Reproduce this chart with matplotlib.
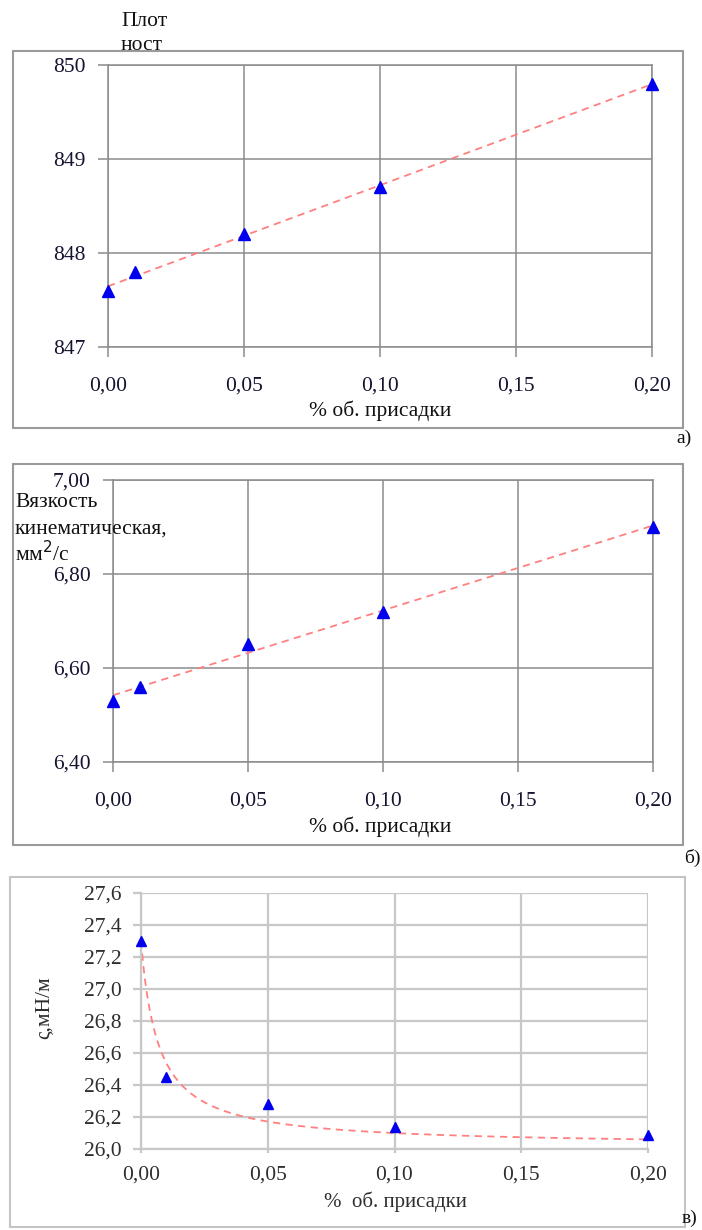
import numpy as np
import matplotlib
matplotlib.use("Agg")
import matplotlib.pyplot as plt
from matplotlib.patches import Rectangle

# ---------------- data ----------------
additive_pct = [0.00, 0.01, 0.05, 0.10, 0.20]
density = [847.6, 847.8, 848.2, 848.7, 849.8]
viscosity = [6.53, 6.56, 6.65, 6.72, 6.90]
surface_tension = [27.30, 26.45, 26.28, 26.14, 26.09]
# hyperbolic trend y = a + b / (x + c), coefficients
surface_trend_coef = [26.018, 0.00872, 0.0068]

xticks = [0.00, 0.05, 0.10, 0.15, 0.20]
xtick_labels = ["0,00", "0,05", "0,10", "0,15", "0,20"]
density_ticks = [847, 848, 849, 850]
density_labels = ["847", "848", "849", "850"]
visc_ticks = [6.40, 6.60, 6.80, 7.00]
visc_labels = ["6,40", "6,60", "6,80", "7,00"]
st_ticks = [26.0, 26.2, 26.4, 26.6, 26.8, 27.0, 27.2, 27.4, 27.6]
st_labels = ["26,0", "26,2", "26,4", "26,6", "26,8", "27,0", "27,2", "27,4", "27,6"]

xlabel = "% об. присадки"
xlabel_c = "%  об. присадки"

# ---------------- style ----------------
plt.rcParams['font.family'] = ['Liberation Serif', 'DejaVu Serif']
W, H = 702, 1230
fig = plt.figure(figsize=(W / 100, H / 100), dpi=100)


def ax_rect(l, t, r, b):
    return [l / W, 1 - b / H, (r - l) / W, (b - t) / H]


def fig_xy(x, y):
    return x / W, 1 - y / H


def frame(l, t, r, b, color="#9a9a9a", lw=1.5):
    fig.patches.append(Rectangle(fig_xy(l, b), (r - l) / W, (b - t) / H,
                                 transform=fig.transFigure, fill=False,
                                 edgecolor=color, linewidth=lw))


x = np.array(additive_pct)
xs = np.linspace(0, 0.2, 400)

tick_col = "#141432"
trend_kw = dict(color="#ff8080", lw=1.3, dashes=(4, 3), zorder=2)
mark_kw = dict(marker="^", color="#0000ee", linestyle="none", zorder=3,
               clip_on=False)

# ---------------- panel a ----------------
frame(13, 51, 683, 428)
axa = fig.add_axes(ax_rect(108, 65, 652, 347))
axa.set_xlim(0, 0.2)
axa.set_ylim(847, 850)
pa = np.polyfit(x, density, 1)
axa.plot(xs, np.polyval(pa, xs), **trend_kw)
axa.plot(x, density, markersize=9, **mark_kw)
axa.set_xticks(xticks, xtick_labels)
axa.set_yticks(density_ticks, density_labels)

# ---------------- panel b ----------------
frame(13, 464, 683, 845)
axb = fig.add_axes(ax_rect(113, 480, 653, 762))
axb.set_xlim(0, 0.2)
axb.set_ylim(6.40, 7.00)
pb = np.polyfit(x, viscosity, 1)
axb.plot(xs, np.polyval(pb, xs), **trend_kw)
axb.plot(x, viscosity, markersize=9, **mark_kw)
axb.set_xticks(xticks, xtick_labels)
axb.set_yticks(visc_ticks, visc_labels)

for ax in (axa, axb):
    ax.grid(True, color="#8c8c8c", lw=1.1)
    for s in ax.spines.values():
        s.set_color("#8c8c8c")
        s.set_linewidth(1.1)
    ax.tick_params(axis="both", colors="#8c8c8c", labelcolor=tick_col,
                   labelsize=15.5, length=7, width=1.1)
    ax.tick_params(axis="x", pad=14)
    ax.tick_params(axis="y", pad=9)
    ax.set_axisbelow(True)

fig.text(*fig_xy(380, 411), xlabel, ha="center", va="center", fontsize=15.5,
         color="#111111")
fig.text(*fig_xy(380, 827), xlabel, ha="center", va="center", fontsize=15.5,
         color="#111111")

# labels panel a
fig.text(*fig_xy(121, 22), "Плот", ha="left", va="center", fontsize=15.5,
         color="#111111")
fig.text(*fig_xy(121, 46), "ност", ha="left", va="center", fontsize=15.5,
         color="#111111")
fig.text(*fig_xy(676, 438), "а)", ha="left", va="center", fontsize=14,
         color="#111111")

# labels panel b
fig.text(*fig_xy(15, 502), "Вязкость", ha="left", va="center", fontsize=15.5,
         color="#111111")
fig.text(*fig_xy(15, 529), "кинематическая,", ha="left", va="center",
         fontsize=15.5, color="#111111")
fig.text(*fig_xy(15, 554), "мм$^{2}$/с", ha="left", va="center", fontsize=15.5,
         color="#111111")
fig.text(*fig_xy(684, 858), "б)", ha="left", va="center", fontsize=14,
         color="#111111")

# ---------------- panel c ----------------
frame(10, 877, 685, 1227, color="#c4c4c4", lw=1.5)
axc = fig.add_axes(ax_rect(141, 893, 648, 1149))
axc.set_xlim(0, 0.2)
axc.set_ylim(26.0, 27.6)

ta, tb, tc = surface_trend_coef
axc.plot(xs, ta + tb / (xs + tc), **trend_kw)
axc.plot(x, surface_tension, markersize=7.5, **mark_kw)
axc.set_xticks(xticks, xtick_labels)
axc.set_yticks(st_ticks, st_labels)
axc.grid(True, color="#c8c8c8", lw=1.6)
for s in axc.spines.values():
    s.set_visible(False)
axc.spines["left"].set_visible(True)
axc.spines["bottom"].set_visible(True)
axc.spines["left"].set_color("#c8c8c8")
axc.spines["bottom"].set_color("#c8c8c8")
axc.spines["left"].set_linewidth(1.6)
axc.spines["bottom"].set_linewidth(1.6)
axc.tick_params(axis="both", colors="#c8c8c8", labelcolor="#2e2e2e",
                labelsize=15.5, length=6, width=1.6)
axc.tick_params(axis="x", pad=9, length=3)
axc.tick_params(axis="y", pad=8)
axc.set_axisbelow(True)

fig.text(*fig_xy(44, 1008), "ς,мН/м", ha="center", va="center", fontsize=15.5,
         rotation=90, color="#2e2e2e")
fig.text(*fig_xy(395, 1202), xlabel_c, ha="center", va="center", fontsize=15,
         color="#2e2e2e")
fig.text(*fig_xy(682, 1218), "в)", ha="left", va="center", fontsize=14,
         color="#111111")

fig.savefig("out.png", dpi=100)
